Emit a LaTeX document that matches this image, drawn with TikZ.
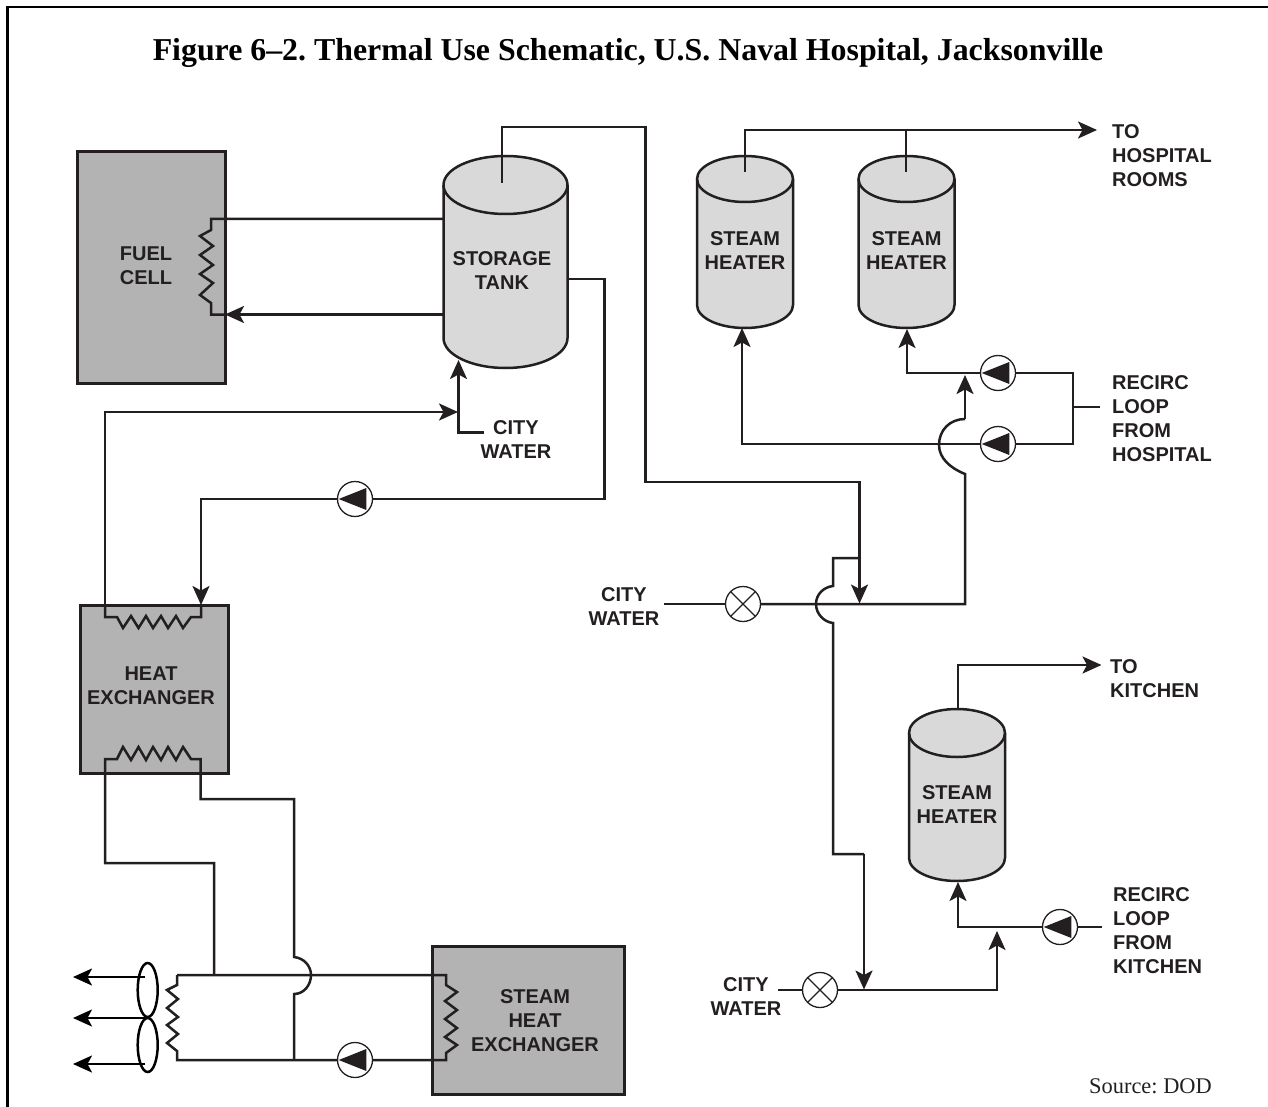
\documentclass[tikz,border=0pt]{standalone}
\usepackage{fontspec}
\setmainfont{Liberation Sans}
\newfontfamily\serifface{Liberation Serif}
\usetikzlibrary{arrows.meta,shapes.geometric,calc}
\definecolor{ink}{HTML}{231F20}
\definecolor{boxgrey}{HTML}{B3B3B3}
\definecolor{tankgrey}{HTML}{D9D9D9}
\frenchspacing
\tikzset{
  pipe/.style={draw=ink,line width=2.5pt,line join=miter},
  flow/.style={pipe,-{Stealth[length=19pt,width=17pt,inset=4.5pt]}},
  equip/.style={draw=ink,fill=boxgrey,line width=3pt,rectangle,inner sep=0pt,outer sep=0pt},
  anchorbox/.style={rectangle,inner sep=0pt,outer sep=0pt},
  tag/.style={font=\fontsize{20}{24}\selectfont\bfseries,text=ink,align=center,inner sep=0pt},
  tagl/.style={tag,align=left,anchor=west},
  pumpnode/.style={circle,draw=ink,fill=white,line width=1.3pt,minimum size=35pt,inner sep=0pt,outer sep=0pt,
    path picture={\fill[ink] ($(path picture bounding box.center)+(-16.3pt,0pt)$) -- ($(path picture bounding box.center)+(11.3pt,11pt)$) -- ($(path picture bounding box.center)+(11.3pt,-11pt)$) -- cycle;}},
  valvenode/.style={circle,draw=ink,fill=white,line width=1.3pt,minimum size=35pt,inner sep=0pt,outer sep=0pt,
    path picture={\draw[ink,line width=1.3pt] (path picture bounding box.south west) -- (path picture bounding box.north east) (path picture bounding box.north west) -- (path picture bounding box.south east);}},
  fanblade/.style={ellipse,draw=black,line width=2.5pt,minimum width=20pt,minimum height=54pt,inner sep=0pt,outer sep=0pt},
  tanksurf/.style={draw=ink,fill=tankgrey,line width=2.5pt},
}
% name, centre x, rx, top, ellipse centre y, side end y, bottom
\newcommand{\tankshape}[7]{%
  \path[tanksurf] (#2-#3,#5) arc[start angle=180,end angle=360,x radius=#3,y radius=#5-#4] -- (#2+#3,#6) arc[start angle=0,end angle=180,x radius=#3,y radius=#7-#6] -- cycle;
  \draw[ink,line width=2.5pt] (#2-#3,#5) arc[start angle=180,end angle=0,x radius=#3,y radius=#5-#4];
  \node[anchorbox,minimum width=2*#3,minimum height=#7-#4] (#1) at (#2,{(#4+#7)/2}) {};
}
\begin{document}
\begin{tikzpicture}[x=1pt,y=-1pt]
\useasboundingbox (0,0) rectangle (1268,1107);
% frame
\coordinate (frameBL) at (7.3,1107);
\coordinate (frameTL) at (7.3,7);
\coordinate (frameTR) at (1268,7);
\draw[black,line width=2.6pt] (frameBL) -- (frameTL) -- (frameTR);
\node[font=\serifface\bfseries\fontsize{31.85}{36}\selectfont,text=black,inner sep=0pt] (title) at (628,53) {Figure 6–2. Thermal Use Schematic, U.S. Naval Hospital, Jacksonville};
\node[font=\serifface\fontsize{22.4}{24}\selectfont,text=ink,inner sep=0pt] (source) at (1150.5,1086) {Source: DOD};

% equipment
\node[equip,minimum width=148pt,minimum height=231pt] (fuel) at (151,267.5) {};
\node[equip,minimum width=148pt,minimum height=168pt] (hx) at (154,689) {};
\node[equip,minimum width=192pt,minimum height=148pt] (shx) at (528,1020) {};
\tankshape{tank}{505.5}{62}{156}{185}{338}{368}
\tankshape{heatA}{745}{48}{156}{179}{305}{328}
\tankshape{heatB}{906.5}{48}{156}{179}{305}{328}
\tankshape{heatC}{957}{48}{709}{733}{858}{881}

% labels
\node[tag] (lfuel) at (146,265.5) {FUEL\\CELL};
\node[tag] (ltank) at (502,271) {STORAGE\\TANK};
\node[tag] (lheatA) at (745,251) {STEAM\\HEATER};
\node[tag] (lheatB) at (906.5,251) {STEAM\\HEATER};
\node[tag] (lheatC) at (957,805) {STEAM\\HEATER};
\node[tag] (lhx) at (151,685.5) {HEAT\\EXCHANGER};
\node[tag] (lshx) at (535,1021) {STEAM\\HEAT\\EXCHANGER};
\node[tag] (cityA) at (516,440) {CITY\\WATER};
\node[tag] (cityB) at (624,607) {CITY\\WATER};
\node[tag] (cityC) at (746,997) {CITY\\WATER};
\node[tagl] (rooms) at (1112,156) {TO\\HOSPITAL\\ROOMS};
\node[tagl] (rechosp) at (1112,419) {RECIRC\\LOOP\\FROM\\HOSPITAL};
\node[tagl] (kitchen) at (1110,679) {TO\\KITCHEN};
\node[tagl] (reckit) at (1113,931) {RECIRC\\LOOP\\FROM\\KITCHEN};

% pumps and valves
\node[pumpnode] (pA) at (355,499) {};
\node[pumpnode] (pB) at (998,373) {};
\node[pumpnode] (pC) at (998,444) {};
\node[pumpnode] (pD) at (1060,927) {};
\node[pumpnode] (pE) at (355,1060) {};
\node[valvenode] (vA) at (743,604) {};
\node[valvenode] (vB) at (820,990) {};

% fan
\node[fanblade] (fanT) at (147.7,990) {};
\node[fanblade] (fanB) at (147.7,1045) {};
\coordinate (fa) at (145,977);
\coordinate (fb) at (147,1018);
\coordinate (fc) at (145,1064);
\coordinate (fat) at (73,977);
\coordinate (fbt) at (73,1018);
\coordinate (fct) at (73,1064);
\draw[flow,draw=black] (fa) -- (fat);
\draw[flow,draw=black] (fb) -- (fbt);
\draw[flow,draw=black] (fc) -- (fct);

% fuel cell coil and loop
\coordinate (tankW1) at (443.5,219);
\coordinate (tankW2) at (443.5,314.5);
\coordinate (fuelE2) at (225,314.5);
\draw[pipe] (tankW1) -- (211,219) -- (211,230) -- (200,236) -- (213,246) -- (200,255) -- (213,265) -- (200,274) -- (213,283) -- (200,295) -- (211,303) -- (211,314.5) -- (fuelE2);
\draw[flow] (tankW2) -- (fuelE2);

% storage tank outlets
\coordinate (tankTop) at (502,183);
\coordinate (junMix) at (859.5,603.5);
\draw[flow] (tankTop) -- (502,127) -- (645.5,127) -- (645.5,482) -- (859.5,482) -- (junMix);
\coordinate (tankE) at (567.5,279);
\coordinate (hxTop) at (201,605);
\draw[pipe] (tankE) -- (604.5,279) -- (604.5,499) -- (pA.east);
\draw[flow] (pA.west) -- (201,499) -- (hxTop);

% city water into storage tank
\coordinate (cityAend) at (484,432.5);
\coordinate (tankBot) at (458.5,360);
\draw[flow] (cityAend) -- (458.5,432.5) -- (tankBot);
\coordinate (teeA) at (458,412);
\coordinate (hxOut) at (105,605);
\draw[flow] (hxOut) -- (105,412) -- (teeA);

% heat exchanger coils
\draw[pipe] (hxOut) -- (105,617) -- (117,617) -- (123,628) -- (131,616) -- (138.5,628) -- (146,616) -- (153,628) -- (161,616) -- (168,628) -- (176,616) -- (183,628) -- (191,617) -- (201,617) -- (hxTop);
\coordinate (hxB) at (105,759);
\coordinate (hxC) at (200.5,759);
\draw[pipe] (214,975) -- (214,863) -- (105,863) -- (hxB) -- (117,759) -- (123,747) -- (131,760) -- (138.5,747) -- (146,760) -- (153,747) -- (161,760) -- (168,747) -- (176,760) -- (183,747) -- (191,759) -- (hxC) -- (200.5,799) -- (294,799) -- (294,957)
  .. controls (304,958) and (311,966) .. (311,975) .. controls (311,985) and (304,994) .. (294,994) -- (294,1060);

% fan coil and steam heat exchanger loop
\coordinate (shxC1) at (446,975);
\coordinate (shxC2) at (446,1060);
\coordinate (fc1) at (177,975);
\coordinate (fc2) at (177,1060);
\draw[pipe] (fc1) -- (shxC1) -- (446,985) -- (457,992) -- (445,1001) -- (457,1010) -- (445,1019) -- (457,1028) -- (445,1037) -- (457,1045) -- (446,1053) -- (shxC2) -- (pE.east);
\draw[pipe] (fc1) -- (177,985) -- (167,990) -- (178,999) -- (167,1008) -- (178,1017) -- (167,1025) -- (178,1034) -- (167,1043) -- (177,1051) -- (fc2) -- (pE.west);

% steam heaters supply
\coordinate (rooms1) at (1097,130);
\coordinate (heatAin) at (745,172);
\coordinate (heatBin) at (906,172);
\draw[flow] (heatAin) -- (745,130) -- (rooms1);
\draw[pipe] (heatBin) -- (906,130);
\draw[flow] (pB.west) -- (907,373) -- (907,329);
\draw[flow] (pC.west) -- (742,444) -- (742,328);
\coordinate (recircT) at (1073,373);
\coordinate (recircB) at (1073,444);
\coordinate (recircE) at (1100,407);
\draw[pipe] (pB.east) -- (recircT) -- (recircB) -- (pC.east);
\draw[pipe] (recircE) -- (1073,407);

% city water main
\coordinate (cityBend) at (664,604);
\draw[pipe] (cityBend) -- (vA.west);
\draw[pipe] (vA.east) -- (965,604) -- (965,474)
  .. controls (950,468) and (939,458) .. (939,445) .. controls (939,430) and (950,419) .. (965,419);
\draw[flow] (965,419) -- (965,375);
\draw[pipe] (859.5,558) -- (833,558) -- (833,586)
  .. controls (824,587) and (816,594) .. (816,604) .. controls (816,614) and (824,622) .. (833,623) -- (833,854) -- (864,854);
\coordinate (junB) at (864,989.5);
\draw[flow] (864,854) -- (junB);
\coordinate (cityCend) at (778,990);
\draw[pipe] (cityCend) -- (vB.west);
\draw[flow] (vB.east) -- (997,990) -- (997,931);

% kitchen heater
\draw[flow] (pD.west) -- (958,927) -- (958,882);
\coordinate (reckEnd) at (1102,927);
\draw[pipe] (reckEnd) -- (pD.east);
\coordinate (heatCtop) at (958,709);
\coordinate (kitchenEnd) at (1101.5,665);
\draw[flow] (heatCtop) -- (958,665) -- (kitchenEnd);
\end{tikzpicture}
\end{document}
